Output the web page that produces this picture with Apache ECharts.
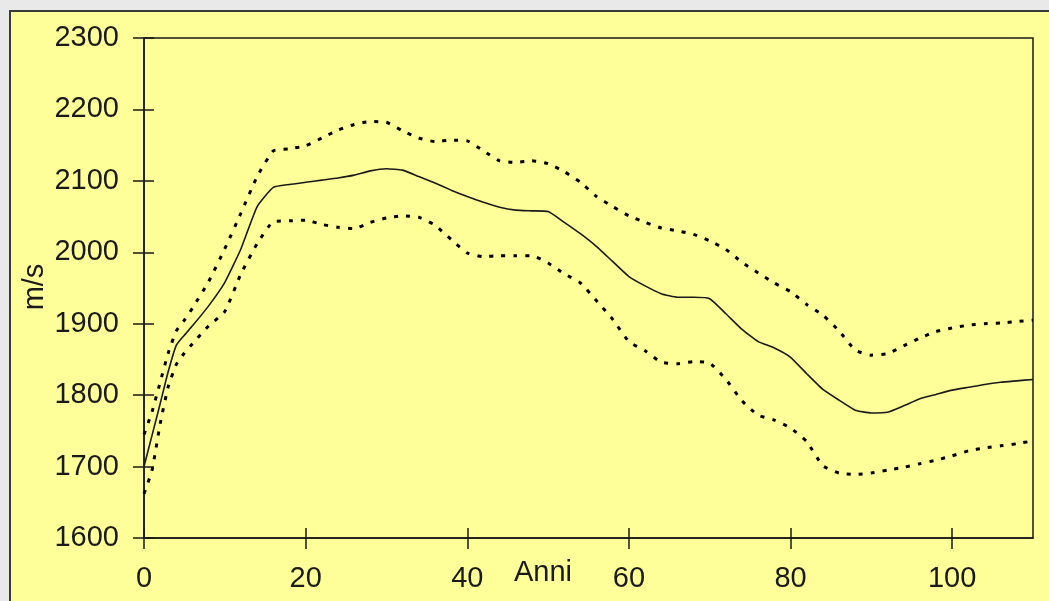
<!DOCTYPE html>
<html>
<head>
<meta charset="utf-8">
<script src="https://cdn.jsdelivr.net/npm/echarts@6/dist/echarts.min.js"></script>
<style>
  html, body { margin: 0; padding: 0; background: #e9e9e9; overflow: hidden; }
  #frame { position: absolute; left: 9px; top: 10px; width: 1100px; height: 700px;
           border-top: 2px solid #3a3a3a; border-left: 2px solid #3a3a3a; background: #ffff99; }
  #chart { position: absolute; left: 0; top: 0; width: 1049px; height: 601px; }
</style>
</head>
<body>
<div id="frame"></div>
<div id="chart"></div>
<script>
// Years (Anni)
const years = [0,1,2,3,4,5,6,8,10,12,14,16,18,20,22,24,26,28,30,32,34,36,38,40,42,44,46,48,50,
  52,54,56,58,60,62,64,66,68,70,72,74,76,78,80,82,84,86,88,90,92,94,96,98,100,102,104,106,108,110];

// Mean velocity (m/s) - solid line
const meanValues = [1700,1744,1788,1833,1870,1884,1897,1925,1958,2005,2064,2091,2095,2098,2101,2104,2108,2114,2117,2115,
  2106,2097,2087,2078,2070,2063,2059,2058,2057,2042,2026,2008,1987,1966,1953,1942,1937,1937,1935,1914,1892,1875,1866,1853,
  1830,1808,1793,1779,1775,1776,1785,1795,1801,1807,1811,1815,1818,1820,1822];

// Upper bound - dotted line
const upperValues = [1745,1777,1818,1859,1890,1905,1922,1959,2005,2055,2106,2142,2145,2149,2160,2171,2179,2183,2182,2170,
  2160,2155,2157,2156,2142,2128,2126,2128,2124,2113,2098,2078,2064,2051,2042,2034,2030,2025,2016,2004,1986,1971,1957,1945,
  1927,1912,1890,1863,1856,1858,1869,1880,1889,1894,1898,1900,1901,1903,1905];

// Lower bound - dotted line
const lowerValues = [1662,1695,1760,1812,1843,1859,1872,1897,1917,1970,2012,2043,2044,2045,2039,2035,2033,2042,2048,2051,
  2049,2038,2018,1999,1994,1995,1995,1995,1985,1970,1957,1932,1906,1875,1862,1846,1844,1847,1845,1822,1792,1772,1765,1754,
  1735,1701,1691,1689,1691,1695,1699,1704,1709,1715,1722,1726,1729,1732,1736];

const xTicks = [0,20,40,60,80,100];
const yAxisTitle = 'm/s';
const xAxisTitle = 'Anni';

const pairs = (vals) => years.map((y, i) => [y, vals[i]]);
const FONT = '"Liberation Sans", Arial, sans-serif';
const FS = 29;
const INK = '#1a1a1a';

const chart = echarts.init(document.getElementById('chart'), null, { renderer: 'canvas' });

const xBase = {
  type: 'value', min: 0, max: 110, interval: 20, gridIndex: 0,
  splitLine: { show: false }
};
const yBase = {
  type: 'value', min: 1600, max: 2300, interval: 100, gridIndex: 0,
  splitLine: { show: false }
};
const dotted = { color: '#000', width: 3, type: [4, 8], cap: 'butt' };

chart.setOption({
  backgroundColor: 'transparent',
  animation: false,
  grid: {
    left: 144, top: 38, right: 16, bottom: 63,
    show: true, borderColor: INK, borderWidth: 1.5, backgroundColor: 'transparent'
  },
  xAxis: [
    Object.assign({}, xBase, {
      position: 'bottom',
      axisLine: { show: true, lineStyle: { color: INK, width: 1.5 } },
      axisTick: { show: true, inside: false, length: 11, customValues: xTicks, lineStyle: { color: INK, width: 1.5 } },
      axisLabel: { show: true, customValues: xTicks, margin: 26, color: INK, fontFamily: FONT, fontSize: FS, lineHeight: FS,
        formatter: (v) => String(v) }
    }),
    Object.assign({}, xBase, {
      position: 'bottom', offset: 0,
      axisLine: { show: false },
      axisTick: { show: true, inside: true, length: 10, customValues: xTicks, lineStyle: { color: INK, width: 1.5 } },
      axisLabel: { show: false }
    })
  ],
  yAxis: [
    Object.assign({}, yBase, {
      position: 'left',
      axisLine: { show: true, lineStyle: { color: INK, width: 1.5 } },
      axisTick: { show: true, inside: false, length: 11, lineStyle: { color: INK, width: 1.5 } },
      axisLabel: { show: true, margin: 25, color: INK, fontFamily: FONT, fontSize: FS, formatter: (v) => String(v) }
    }),
    Object.assign({}, yBase, {
      position: 'left', offset: 0,
      axisLine: { show: false },
      axisTick: { show: true, inside: true, length: 10, lineStyle: { color: INK, width: 1.5 } },
      axisLabel: { show: false }
    })
  ],
  graphic: [
    { type: 'text', x: 543, y: 573,
      style: { text: xAxisTitle, fill: INK, font: FS + 'px ' + FONT, align: 'center', verticalAlign: 'middle' } },
    { type: 'text', x: 35, y: 287, rotation: Math.PI / 2,
      style: { text: yAxisTitle, fill: INK, font: FS + 'px ' + FONT, align: 'center', verticalAlign: 'middle' } }
  ],
  series: [
    { type: 'line', name: 'lower', data: pairs(lowerValues), xAxisIndex: 0, yAxisIndex: 0,
      showSymbol: false, smooth: 0.15, lineStyle: dotted },
    { type: 'line', name: 'upper', data: pairs(upperValues), xAxisIndex: 0, yAxisIndex: 0,
      showSymbol: false, smooth: 0.15, lineStyle: dotted },
    { type: 'line', name: 'mean', data: pairs(meanValues), xAxisIndex: 0, yAxisIndex: 0,
      showSymbol: false, smooth: 0.15,
      lineStyle: { color: '#1a1a1a', width: 1.6, type: 'solid' } }
  ]
});
</script>
</body>
</html>
